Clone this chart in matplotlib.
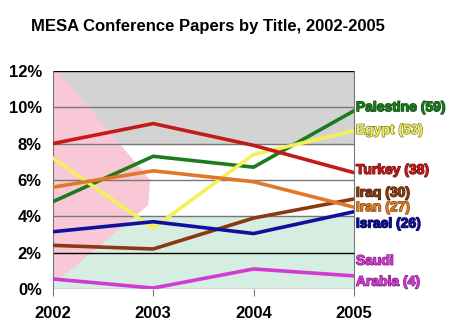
import matplotlib
matplotlib.use("Agg")
import matplotlib.pyplot as plt
import matplotlib.patheffects as pe

# data (share of papers, %)
years = [2002, 2003, 2004, 2005]
palestine = [4.8, 7.3, 6.7, 9.8]
egypt = [7.2, 3.35, 7.4, 8.7]
turkey = [8.0, 9.1, 7.9, 6.4]
iran = [5.6, 6.5, 5.9, 4.5]
iraq = [2.4, 2.2, 3.9, 4.95]
israel = [3.15, 3.7, 3.05, 4.25]
saudi = [0.55, 0.05, 1.1, 0.72]

series = [
    (palestine, "#1e7a1e"),
    (egypt, "#f5f05a"),
    (turkey, "#c41a1a"),
    (iraq, "#8a3a12"),
    (iran, "#e07828"),
    (israel, "#10109a"),
    (saudi, "#d23ad2"),
]
# end labels: text, y position (%), colour, outline colour
labels = [
    ("Palestine (59)", 10.0, "#1e7a1e", "#0d4d0d"),
    ("Egypt (53)", 8.75, "#f5f05a", "#77772a"),
    ("Turkey (38)", 6.55, "#c41a1a", "#6e0d0d"),
    ("Iraq (30)", 5.3, "#8a3a12", "#4a1e08"),
    ("Iran (27)", 4.5, "#e07828", "#7a4a14"),
    ("Israel (26)", 3.6, "#10109a", "#08084d"),
    ("Saudi", 1.55, "#d23ad2", "#7a1e7a"),
    ("Arabia (4)", 0.4, "#d23ad2", "#7a1e7a"),
]
yticks = [0, 2, 4, 6, 8, 10, 12]

fig = plt.figure(figsize=(4.52, 3.28), dpi=100)
ax = fig.add_axes([0.117, 0.119, 0.666, 0.665])

# background bands and pink wedge
ax.axhspan(8, 12, color="#d3d3d3", zorder=0)
ax.axhspan(0, 4, color="#d6eee2", zorder=0)
ax.fill([2002, 2002.05, 2002.97, 2002.95, 2002.08, 2002],
        [12, 12, 6.0, 4.6, 0.6, 0.6], color="#f8c8d6", lw=0, zorder=1)

for v in yticks[1:]:
    ax.axhline(v, color="black" if v in (2, 12) else "#777777", lw=1.0, zorder=2)
ax.axhline(0, color="#888888", lw=1.0, zorder=2)

for vals, col in series:
    ax.plot(years, vals, color=col, lw=2.6, zorder=3)

for name, ly, col, dark in labels:
    ax.text(2005.02, ly, name, color=col, fontsize=10, fontweight="bold",
            family="Liberation Sans", va="center", ha="left",
            path_effects=[pe.withStroke(linewidth=0.9, foreground=dark)],
            clip_on=False)

ax.set_xlim(2002, 2005)
ax.set_ylim(0, 12)
ax.set_xticks(years)
ax.set_xticklabels([str(y) for y in years])
ax.set_yticks(yticks)
ax.set_yticklabels([f"{v}%" for v in yticks])
for lab in ax.get_xticklabels() + ax.get_yticklabels():
    lab.set_family("Liberation Sans")
    lab.set_fontweight("bold")
    lab.set_fontsize(12)
ax.tick_params(axis="x", length=5, pad=7, color="#777777")
ax.tick_params(axis="y", length=0, pad=8)
for s in ["top", "bottom"]:
    ax.spines[s].set_visible(False)
ax.spines["left"].set_color("#777777")
ax.spines["right"].set_color("#777777")

fig.text(0.46, 0.918, "MESA Conference Papers by Title, 2002-2005",
         ha="center", va="center", fontsize=12, fontweight="bold",
         family="Liberation Sans")

fig.savefig("out.png", dpi=100)
